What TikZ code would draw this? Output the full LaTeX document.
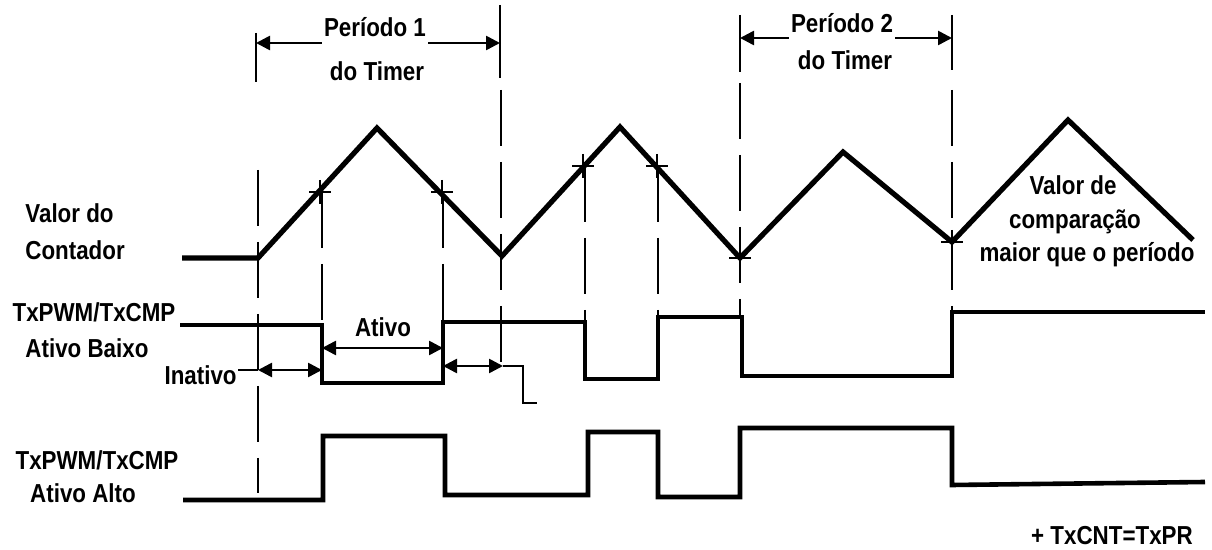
\documentclass[tikz,border=0pt]{standalone}
\usepackage{fontspec}
\newfontfamily\lbl{Liberation Sans}[FakeStretch=0.86]
\usetikzlibrary{arrows.meta}
\tikzset{
  cnt/.style={line width=2.6pt, line join=miter},
  sig/.style={line width=2.3pt, line join=miter},
  dsh/.style={line width=1.1pt, dash pattern=on 28pt off 8pt},
  tickline/.style={line width=1.2pt},
  plusm/.style={line width=1.2pt},
  thinline/.style={line width=1.3pt},
  arr/.style={line width=1.3pt, -{Triangle[length=7pt,width=7pt]}},
  darr/.style={line width=1.3pt, {Triangle[length=7pt,width=7pt]}-{Triangle[length=7pt,width=7pt]}},
  txt/.style={font=\lbl\bfseries\fontsize{13}{17.5}\selectfont, inner sep=0pt, anchor=base}
}
\begin{document}
\begin{tikzpicture}[x=0.5pt, y=-0.5pt]
\useasboundingbox (0,0) rectangle (1212,550);
% ---- counter waveform ----
\coordinate (k0) at (182,258);
\coordinate (k1) at (258,258);
\coordinate (k2) at (377,128);
\coordinate (k3) at (502,256);
\coordinate (k4) at (620,127);
\coordinate (k5) at (740,258);
\coordinate (k6) at (843,152);
\coordinate (k7) at (952,242);
\coordinate (k8) at (1068,120);
\coordinate (k9) at (1193,240);
\draw[cnt] (k0)--(k1)--(k2)--(k3)--(k4)--(k5)--(k6)--(k7)--(k8)--(k9);
% plus marks
\coordinate (m1) at (320,192);
\coordinate (m2) at (442,192);
\coordinate (m3) at (583,166);
\coordinate (m4) at (657,166);
\coordinate (m5) at (740,258);
\coordinate (m6) at (952,242);
\foreach \m in {m1,m2,m3,m4,m5,m6}
  \draw[plusm] (\m) +(-11,0) -- +(11,0) +(0,-12) -- +(0,12);
% ---- vertical dashed guide lines ----
\draw[dsh] (258,170) -- (258,493);
\draw[dsh] (322,192) -- (322,325);
\draw[dsh] (443,192) -- (443,322);
\draw[dsh] (501,90) -- (501,366);
\draw[dsh] (585,166) -- (585,322);
\draw[dsh] (658,166) -- (658,317);
\draw[dsh] (740,83) -- (740,317);
\draw[dsh] (952,90) -- (952,312);
% ---- period ticks ----
\draw[tickline] (256,33) -- (256,82);
\draw[tickline] (500,5) -- (500,78);
\draw[tickline] (740,15) -- (740,72);
\draw[tickline] (952,15) -- (952,70);
% ---- period labels and arrows ----
\node[txt] (p1) at (375,37) {Período 1};
\node[txt] (p1b) at (377,81) {do Timer};
\node[txt] (p2) at (842,33) {Período 2};
\node[txt] (p2b) at (845,70) {do Timer};
\coordinate (t1l) at (256,43);
\coordinate (t1r) at (500,43);
\coordinate (t2l) at (740,38);
\coordinate (t2r) at (952,38);
\draw[arr] ([xshift=-1pt]p1.west |- t1l) -- (t1l);
\draw[arr] ([xshift=1pt]p1.east |- t1r) -- (t1r);
\draw[arr] ([xshift=-1pt]p2.west |- t2l) -- (t2l);
\draw[arr] ([xshift=1pt]p2.east |- t2r) -- (t2r);
% ---- left labels ----
\node[txt, anchor=base west] (l1) at (25,223) {Valor do};
\node[txt, anchor=base west] (l2) at (25,260) {Contador};
\node[txt] (l3) at (94,322) {TxPWM/TxCMP};
\node[txt] (l4) at (87,358) {Ativo Baixo};
\node[txt] (l5) at (97,470) {TxPWM/TxCMP};
\node[txt] (l6) at (83,503) {Ativo Alto};
% ---- compare value text ----
\node[txt] (v1) at (1073,195) {Valor de};
\node[txt] (v2) at (1075,228.5) {comparação};
\node[txt] (v3) at (1087,262) {maior que o período};
% ---- Ativo Baixo signal ----
\draw[sig] (180,325) -- (322,325) -- (322,383) -- (443,383) -- (443,322)
  -- (585,322) -- (585,379) -- (658,379) -- (658,317) -- (742,317)
  -- (742,376) -- (952,376) -- (952,312) -- (1205,312);
% ---- Ativo Alto signal ----
\draw[sig] (183,500) -- (323,500) -- (323,436) -- (445,436) -- (445,495)
  -- (588,495) -- (588,432) -- (658,432) -- (658,497) -- (740,497)
  -- (740,428) -- (952,428) -- (952,485) -- (1205,482);
% ---- Ativo / Inativo markers ----
\node[txt] (at) at (383,337) {Ativo};
\coordinate (a1) at (322,348);
\coordinate (a2) at (443,348);
\draw[darr] (a1) -- (a2);
\node[txt, anchor=base east] (in) at (237,385) {Inativo};
\coordinate (i1) at (258,370);
\coordinate (i2) at (322,370);
\draw[thinline] ([xshift=0.5pt]in.east |- i1) -- (i1);
\draw[darr] (i1) -- (i2);
\coordinate (j1) at (443,366);
\coordinate (j2) at (503,366);
\coordinate (j3) at (537,403);
\draw[darr] (j1) -- (j2);
\draw[thinline] (j2) -- (523,366) -- (523,403) -- (j3);
% ---- legend ----
\node[txt] (leg) at (1112,545) {+ TxCNT=TxPR};
\end{tikzpicture}
\end{document}
